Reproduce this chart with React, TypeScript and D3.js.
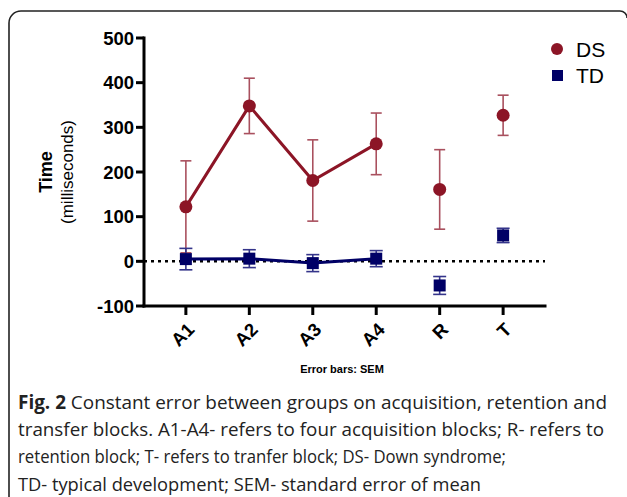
import React from "react";
import * as d3 from "d3";

const categories = ["A1", "A2", "A3", "A4", "R", "T"];
const dsMean = [122, 348, 181, 263, 161, 327];
const dsSem = [103, 62, 91, 69, 89, 45];
const tdMean = [5, 6, -4, 6, -54, 58];
const tdSem = [24, 20, 19, 18, 20, 16];
const dsLineUpTo = 4; // A1-A4 connected
const yTicks = [-100, 0, 100, 200, 300, 400, 500];
const captionLines = [
  "Constant error between groups on acquisition, retention and",
  "transfer blocks. A1-A4- refers to four acquisition blocks; R- refers to",
  "retention block; T- refers to tranfer block; DS- Down syndrome;",
  "TD- typical development; SEM- standard error of mean",
];

const DS_COLOR = "#8c1526";
const DS_ERR = "#a9505e";
const TD_COLOR = "#000066";
const TD_ERR = "#34348a";

export default function App() {
  const W = 627, H = 497;
  const x0 = 144, x1 = 545;
  const y = d3.scaleLinear().domain([-100, 500]).range([306, 38]);
  const x = d3.scalePoint<string>().domain(categories).range([x0, x1]).padding(0.66);
  const font = "'Liberation Sans', Arial, Helvetica, sans-serif";
  const capFont = "'Open Sans', 'Noto Sans', sans-serif";

  const dsLine = d3.line<number>().x((_, i) => x(categories[i])!).y((d) => y(d));
  const tdLine = d3.line<number>().x((_, i) => x(categories[i])!).y((d) => y(d));

  const framePath = `M9,${H} L9,23 A12,12 0 0 1 21,11 L620,11 A7,7 0 0 1 627,18`;

  return (
    <svg width={W} height={H} style={{ position: "absolute", left: 0, top: 0, background: "#fff" }}>
      <path d={framePath} fill="none" stroke="#222" strokeWidth={1.6} />

      {/* zero dotted line */}
      <line x1={x0} x2={x1} y1={y(0)} y2={y(0)} stroke="#000" strokeWidth={2.5} strokeDasharray="3,4" />

      {/* DS error bars */}
      {dsMean.map((m, i) => {
        const cx = x(categories[i])!;
        return (
          <g key={"dse" + i} stroke={DS_ERR} strokeWidth={1.6}>
            <line x1={cx} x2={cx} y1={y(m + dsSem[i])} y2={y(m - dsSem[i])} />
            <line x1={cx - 5.5} x2={cx + 5.5} y1={y(m + dsSem[i])} y2={y(m + dsSem[i])} />
            <line x1={cx - 5.5} x2={cx + 5.5} y1={y(m - dsSem[i])} y2={y(m - dsSem[i])} />
          </g>
        );
      })}
      <path d={dsLine(dsMean.slice(0, dsLineUpTo))!} fill="none" stroke={DS_COLOR} strokeWidth={3} />
      {dsMean.map((m, i) => (
        <circle key={"dsp" + i} cx={x(categories[i])!} cy={y(m)} r={6.5} fill={DS_COLOR} />
      ))}

      {/* TD error bars */}
      {tdMean.map((m, i) => {
        const cx = x(categories[i])!;
        return (
          <g key={"tde" + i} stroke={TD_ERR} strokeWidth={1.6}>
            <line x1={cx} x2={cx} y1={y(m + tdSem[i])} y2={y(m - tdSem[i])} />
            <line x1={cx - 6.5} x2={cx + 6.5} y1={y(m + tdSem[i])} y2={y(m + tdSem[i])} />
            <line x1={cx - 6.5} x2={cx + 6.5} y1={y(m - tdSem[i])} y2={y(m - tdSem[i])} />
          </g>
        );
      })}
      <path d={tdLine(tdMean.slice(0, dsLineUpTo))!} fill="none" stroke={TD_COLOR} strokeWidth={3} />
      {tdMean.map((m, i) => (
        <rect key={"tdp" + i} x={x(categories[i])! - 6} y={y(m) - 6} width={12} height={12} fill={TD_COLOR} />
      ))}

      {/* axes */}
      <g stroke="#000" strokeWidth={3} strokeLinecap="square">
        <line x1={x0} x2={x0} y1={y(-100)} y2={y(500)} />
        <line x1={x0} x2={x1} y1={y(-100)} y2={y(-100)} />
        {yTicks.map((t) => (
          <line key={"yt" + t} x1={x0 - 8} x2={x0} y1={y(t)} y2={y(t)} strokeLinecap="butt" />
        ))}
        {categories.map((c) => (
          <line key={"xt" + c} x1={x(c)!} x2={x(c)!} y1={y(-100)} y2={y(-100) + 9} strokeLinecap="butt" />
        ))}
      </g>
      {yTicks.map((t) => (
        <text key={"yl" + t} x={x0 - 10} y={y(t)} dy="0.36em" textAnchor="end" fontFamily={font}
          fontWeight="bold" fontSize={18.5}>{t}</text>
      ))}
      {categories.map((c) => (
        <text key={"xl" + c} transform={`translate(${x(c)! + 5},${y(-100) + 20}) rotate(-45)`}
          textAnchor="end" fontFamily={font} fontWeight="bold" fontSize={18.5} dy="0.36em">{c}</text>
      ))}

      {/* y axis title */}
      <text transform={`translate(51.5,${y(200)})rotate(-90)`} textAnchor="middle" fontFamily={font}
        fontWeight="bold" fontSize={18}>Time</text>
      <text transform={`translate(73,${y(200)})rotate(-90)`} textAnchor="middle" fontFamily={font}
        fontSize={17}>(milliseconds)</text>

      {/* legend */}
      <circle cx={557} cy={49} r={6} fill={DS_COLOR} />
      <text x={576} y={49} dy="0.36em" fontFamily={font} fontSize={21}>DS</text>
      <rect x={552} y={70} width={11} height={11} fill={TD_COLOR} />
      <text x={576} y={75} dy="0.36em" fontFamily={font} fontSize={21}>TD</text>

      <text x={342} y={373} textAnchor="middle" fontFamily={font} fontWeight="bold" fontSize={11}>Error bars: SEM</text>

      {/* caption */}
      <text x={18} y={409} fontFamily={capFont} fontSize={19} fill="#222"
        textLength={589} lengthAdjust="spacingAndGlyphs">
        <tspan fontWeight="bold">Fig. 2</tspan> {captionLines[0]}
      </text>
      {captionLines.slice(1).map((l, i) => (
        <text key={"cap" + i} x={18} y={436 + i * 27.3} fontFamily={capFont}
          fontSize={19} fill="#222" textLength={[586, 488, 463][i]} lengthAdjust="spacingAndGlyphs">{l}</text>
      ))}
    </svg>
  );
}
